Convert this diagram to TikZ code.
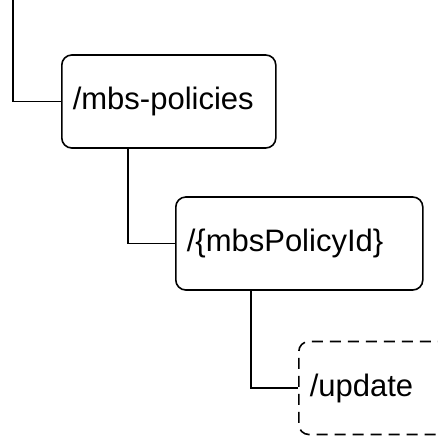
\documentclass[tikz,border=0pt]{standalone}
\usepackage{fontspec}
\setmainfont{Liberation Sans}
\usetikzlibrary{positioning}

\begin{document}
\begin{tikzpicture}[x=1pt,y=-1pt,
  every node/.style = {shape=rectangle, rounded corners=10pt,
    draw, line width=1.6pt, align=left, anchor=west,
    minimum width=214pt, minimum height=93pt,
    text width=192pt, inner sep=11pt,
    font=\fontsize{31}{36}\selectfont},
  resource/.style = {},
  wide/.style = {minimum width=247pt, text width=225pt},
  custom/.style = {dashed, dash pattern=on 11pt off 7pt},
  link/.style = {draw, line width=1.6pt}
  ]
  \useasboundingbox (0,0) rectangle (438,436);
  \node[resource] (policies) at (61,101.5) {/mbs-policies};
  \node[resource, wide] (policyid) at (175,243.5) {/\{mbsPolicyId\}};
  \node[custom] (update) at (298,388) {/update};
  % connectors
  \coordinate (root) at (13,0);
  \coordinate (policiesdown) at ([xshift=67pt]policies.south west);
  \coordinate (policyiddown) at ([xshift=76pt]policyid.south west);
  \path[link] (root) |- (policies.west);
  \path[link] (policiesdown) |- (policyid.west);
  \path[link] (policyiddown) |- (update.west);
\end{tikzpicture}
\end{document}
